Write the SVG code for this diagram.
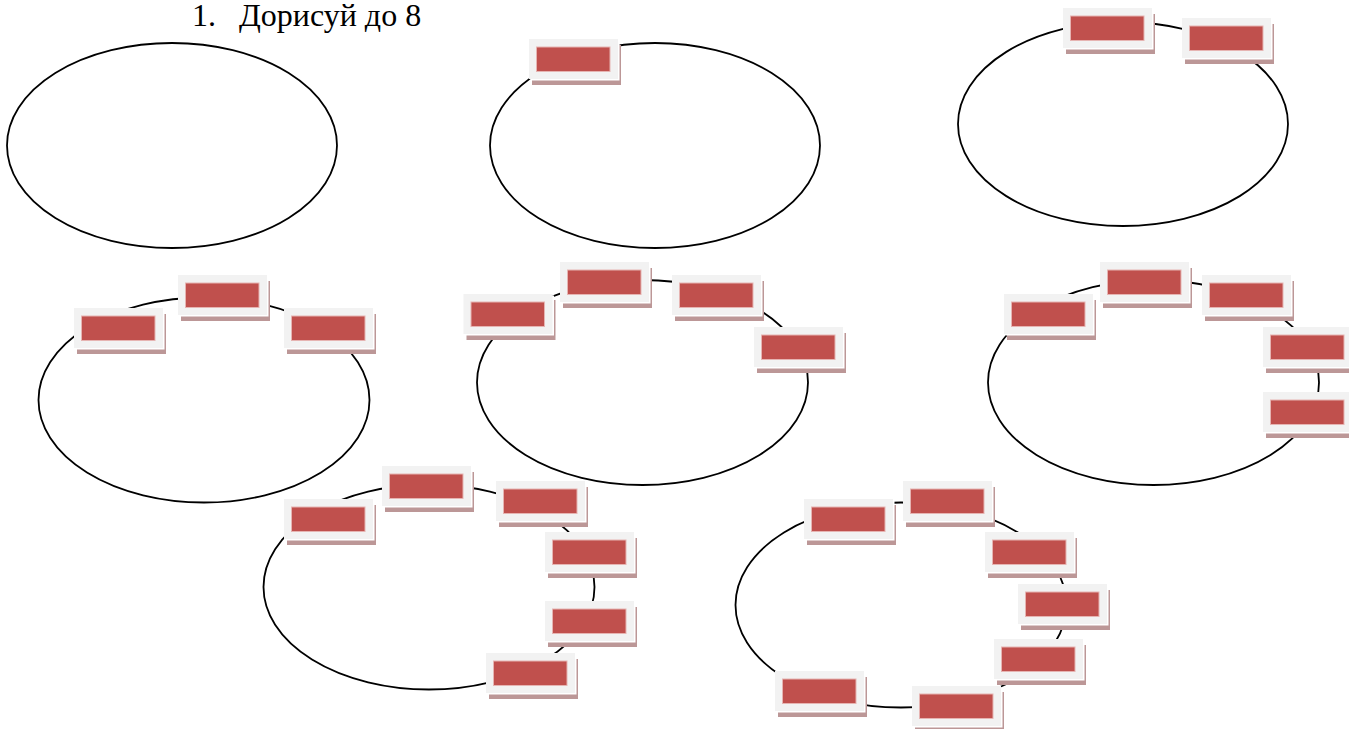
<svg xmlns="http://www.w3.org/2000/svg" xmlns:xlink="http://www.w3.org/1999/xlink" width="1349" height="729" viewBox="0 0 1349 729">
  <style>
    .ring { fill: none; stroke: #000; stroke-width: 1.8; }
    .title { font-family: "Liberation Serif", "Times New Roman", serif; font-size: 32px; fill: #000; }
    .shadow { fill: #bc9797; }
    .gap { fill: #ffffff; }
    .frame { fill: #f2f2f2; }
    .cell { fill: #c0504d; stroke: #e6b4b2; stroke-width: 1; }
  </style>
  <defs>
    <!-- one slot: shadowed grey frame with a red card inside -->
    <g id="slot">
      <rect class="shadow" x="3" y="6" width="89" height="40"/>
      <rect class="gap" x="1.5" y="1.5" width="89" height="40"/>
      <rect class="frame" x="0" y="0" width="89" height="40"/>
      <rect class="cell" x="7.5" y="8" width="73.5" height="24.5"/>
    </g>
  </defs>

  <rect width="1349" height="729" fill="#ffffff"/>

  <text class="title" x="192" y="26"><tspan>1.</tspan><tspan x="239">Дорисуй до 8</tspan></text>

  <!-- rings -->
  <g id="rings">
    <ellipse class="ring" cx="172" cy="145.5" rx="165" ry="102.5"/>
    <ellipse class="ring" cx="655" cy="145.5" rx="165" ry="102.5"/>
    <ellipse class="ring" cx="1123" cy="124" rx="165" ry="102"/>
    <ellipse class="ring" cx="204" cy="400" rx="165.5" ry="102.5"/>
    <ellipse class="ring" cx="642.5" cy="382.5" rx="165.5" ry="102.5"/>
    <ellipse class="ring" cx="1153.5" cy="382.5" rx="165.5" ry="102.5"/>
    <ellipse class="ring" cx="429" cy="587" rx="165.5" ry="102.5"/>
    <ellipse class="ring" cx="901" cy="605" rx="165.5" ry="102.5"/>
  </g>

  <!-- ring 2: one slot -->
  <g id="r2-s1"><use xlink:href="#slot" x="529" y="39"/></g>

  <!-- ring 3: two slots -->
  <g id="r3-s1"><use xlink:href="#slot" x="1063" y="8"/></g>
  <g id="r3-s2"><use xlink:href="#slot" x="1182" y="18"/></g>

  <!-- ring 4: three slots -->
  <g id="r4-s1"><use xlink:href="#slot" x="74" y="308"/></g>
  <g id="r4-s2"><use xlink:href="#slot" x="178" y="275"/></g>
  <g id="r4-s3"><use xlink:href="#slot" x="284" y="308"/></g>

  <!-- ring 5: four slots -->
  <g id="r5-s1"><use xlink:href="#slot" x="463.5" y="294"/></g>
  <g id="r5-s2"><use xlink:href="#slot" x="560" y="262"/></g>
  <g id="r5-s3"><use xlink:href="#slot" x="672" y="275"/></g>
  <g id="r5-s4"><use xlink:href="#slot" x="754" y="327"/></g>

  <!-- ring 6: five slots -->
  <g id="r6-s1"><use xlink:href="#slot" x="1004" y="294"/></g>
  <g id="r6-s2"><use xlink:href="#slot" x="1100" y="262"/></g>
  <g id="r6-s3"><use xlink:href="#slot" x="1202" y="275"/></g>
  <g id="r6-s4"><use xlink:href="#slot" x="1263" y="327"/></g>
  <g id="r6-s5"><use xlink:href="#slot" x="1263" y="392"/></g>

  <!-- ring 7: six slots -->
  <g id="r7-s1"><use xlink:href="#slot" x="284" y="499"/></g>
  <g id="r7-s2"><use xlink:href="#slot" x="382" y="466"/></g>
  <g id="r7-s3"><use xlink:href="#slot" x="496" y="481"/></g>
  <g id="r7-s4"><use xlink:href="#slot" x="545" y="532"/></g>
  <g id="r7-s5"><use xlink:href="#slot" x="545" y="601"/></g>
  <g id="r7-s6"><use xlink:href="#slot" x="486" y="653"/></g>

  <!-- ring 8: seven slots -->
  <g id="r8-s1"><use xlink:href="#slot" x="804" y="499"/></g>
  <g id="r8-s2"><use xlink:href="#slot" x="903" y="481"/></g>
  <g id="r8-s3"><use xlink:href="#slot" x="985" y="532"/></g>
  <g id="r8-s4"><use xlink:href="#slot" x="1018" y="584"/></g>
  <g id="r8-s5"><use xlink:href="#slot" x="994" y="639"/></g>
  <g id="r8-s6"><use xlink:href="#slot" x="912" y="686"/></g>
  <g id="r8-s7"><use xlink:href="#slot" x="775" y="671"/></g>
</svg>
